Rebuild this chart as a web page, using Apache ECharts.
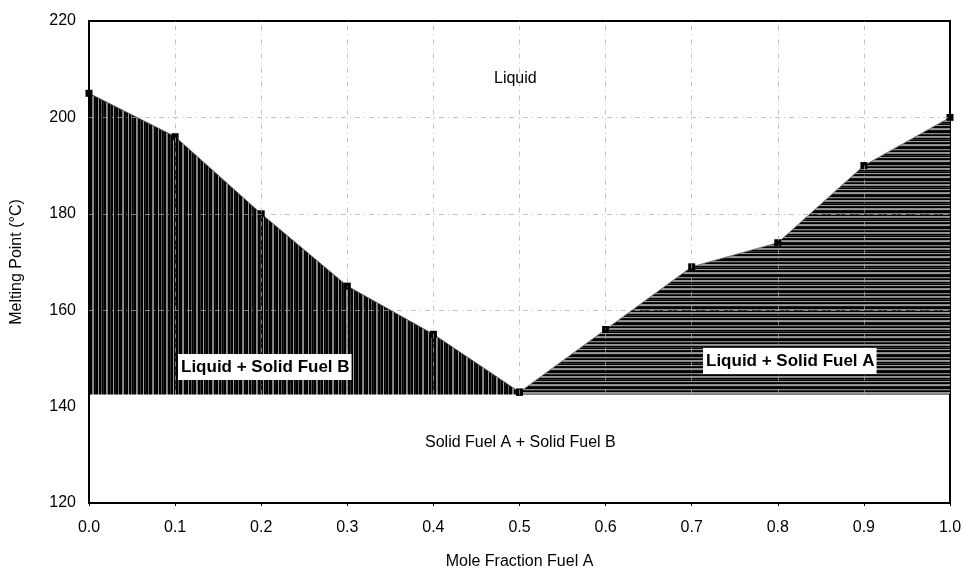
<!DOCTYPE html>
<html>
<head>
<meta charset="utf-8">
<script src="https://cdn.jsdelivr.net/npm/echarts@6/dist/echarts.min.js"></script>
<style>
  html, body { margin: 0; padding: 0; background: #fff; }
  #chart { width: 964px; height: 573px; }
</style>
</head>
<body>
<div id="chart"></div>
<script>
// Melting point phase diagram of a binary fuel mixture
const fractionB = [0.0, 0.1, 0.2, 0.3, 0.4, 0.5];      // Fuel-B-rich branch
const meltB     = [205, 196, 180, 165, 155, 143];
const fractionA = [0.5, 0.6, 0.7, 0.8, 0.9, 1.0];      // Fuel-A-rich branch
const meltA     = [143, 156, 169, 174, 190, 200];
const eutecticT = 142.5;                               // solidus line
const xTicks = [0.0, 0.1, 0.2, 0.3, 0.4, 0.5, 0.6, 0.7, 0.8, 0.9, 1.0];
const yTicks = [120, 140, 160, 180, 200, 220];

const FONT = '"Liberation Sans", Arial, sans-serif';

// Striped fill textures for the two-phase regions
function stripePattern(colors, vertical) {
  const c = document.createElement('canvas');
  const n = colors.length;
  c.width = vertical ? n : 4;
  c.height = vertical ? 4 : n;
  const ctx = c.getContext('2d');
  colors.forEach((col, i) => {
    ctx.fillStyle = col;
    if (vertical) ctx.fillRect(i, 0, 1, 4);
    else ctx.fillRect(0, i, 4, 1);
  });
  return c;
}
const leftTexture = stripePattern(
  ['#000', '#000', '#808080', '#8c8c8c', '#000', '#111', '#000', '#000', '#9a9a9a', '#000',
   '#000', '#5a5a5a', '#000', '#222', '#000', '#000', '#909090', '#7a7a7a', '#000', '#000',
   '#333', '#000', '#000', '#a0a0a0', '#000', '#1a1a1a', '#000', '#000', '#666', '#000'], true);
const rightTexture = stripePattern(
  ['#8c8c8c', '#9a9a9a', '#151515', '#000', '#000', '#888', '#2a2a2a', '#000',
   '#969696', '#8a8a8a', '#000', '#333', '#000', '#a0a0a0', '#111', '#000'], false);

const pairs = (xs, ys) => xs.map((x, i) => [x, ys[i]]);

// Faint grid drawn only through the liquid region
const gridLines = [];
xTicks.slice(1, -1).forEach(x => gridLines.push([{ coord: [x, eutecticT] }, { coord: [x, yTicks[yTicks.length - 1]] }]));
yTicks.filter(y => y > eutecticT && y < yTicks[yTicks.length - 1])
  .forEach(y => gridLines.push([{ coord: [xTicks[0], y] }, { coord: [xTicks[xTicks.length - 1], y] }]));

const chart = echarts.init(document.getElementById('chart'));
chart.setOption({
  animation: false,
  backgroundColor: '#fff',
  textStyle: { fontFamily: FONT },
  grid: { left: 89, right: 14, top: 21, bottom: 70, show: true, borderColor: '#000', borderWidth: 2,
          containLabel: false, outerBoundsMode: 'none' },
  xAxis: {
    type: 'value', min: 0, max: 1, interval: 0.1,
    name: 'Mole Fraction Fuel A', nameLocation: 'middle', nameGap: 51,
    nameTextStyle: { fontSize: 16, color: '#000', fontFamily: FONT },
    axisLine: { show: true, lineStyle: { color: '#000', width: 2 } },
    axisTick: { show: true, length: 3, lineStyle: { color: '#000' } },
    axisLabel: { fontSize: 16, color: '#000', margin: 17, formatter: v => v.toFixed(1) },
    splitLine: { show: false }
  },
  yAxis: {
    type: 'value', min: 120, max: 220, interval: 20,
    name: 'Melting Point (°C)', nameLocation: 'middle', nameGap: 64, nameRotate: 90,
    nameTextStyle: { fontSize: 16, color: '#000', fontFamily: FONT },
    axisLine: { show: true, lineStyle: { color: '#000', width: 2 } },
    axisTick: { show: false },
    axisLabel: { fontSize: 16, color: '#000', margin: 13 },
    splitLine: { show: false }
  },
  series: [
    {
      type: 'line', data: [], z: 1, silent: true,
      markLine: {
        silent: true, symbol: ['none', 'none'], label: { show: false },
        lineStyle: { color: '#a8a8a8', width: 1, type: [5, 4, 1, 4], opacity: 0.7 },
        data: gridLines
      }
    },
    {
      type: 'line', data: pairs(fractionB, meltB), z: 3,
      symbol: 'rect', symbolSize: 7, showAllSymbol: true,
      itemStyle: { color: '#000' },
      lineStyle: { color: '#555', width: 1 },
      areaStyle: { origin: eutecticT, color: { image: leftTexture, repeat: 'repeat' }, opacity: 1 }
    },
    {
      type: 'line', data: pairs(fractionA, meltA), z: 3,
      symbol: 'rect', symbolSize: 7, showAllSymbol: true,
      itemStyle: { color: '#000' },
      lineStyle: { color: '#777', width: 1 },
      areaStyle: { origin: eutecticT, color: { image: rightTexture, repeat: 'repeat' }, opacity: 1 }
    }
  ],
  graphic: [
    { type: 'text', left: 494, top: 71, z: 10,
      style: { text: 'Liquid', font: '16px ' + FONT, fill: '#000' } },
    { type: 'text', left: 178, top: 354, z: 10,
      style: { text: 'Liquid + Solid Fuel B', font: 'bold 17px ' + FONT, fill: '#000',
               backgroundColor: '#fff', padding: [5, 2, 4, 3] } },
    { type: 'text', left: 703, top: 348, z: 10,
      style: { text: 'Liquid + Solid Fuel A', font: 'bold 17px ' + FONT, fill: '#000',
               backgroundColor: '#fff', padding: [5, 2, 4, 3] } },
    { type: 'text', left: 425, top: 435, z: 10,
      style: { text: 'Solid Fuel A + Solid Fuel B', font: '16px ' + FONT, fill: '#000' } }
  ]
});
</script>
</body>
</html>
